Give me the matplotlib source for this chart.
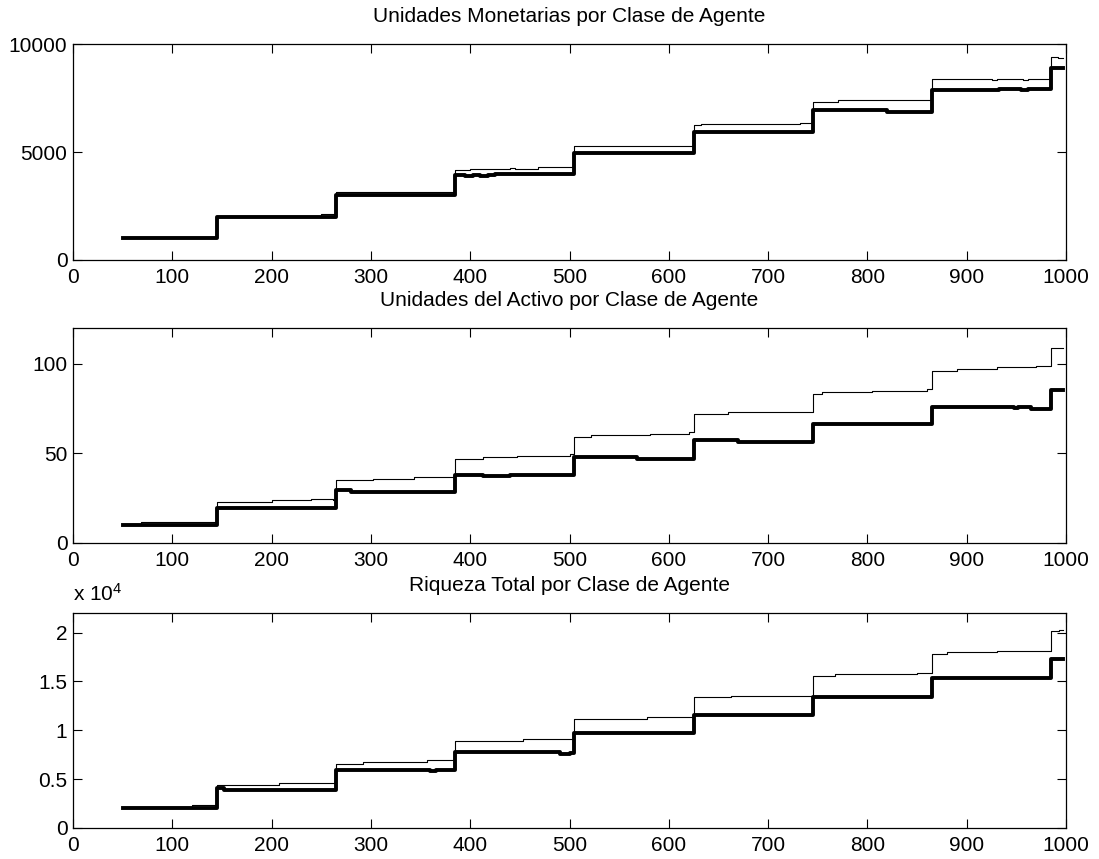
import matplotlib
matplotlib.use("Agg")
import matplotlib.pyplot as plt
from matplotlib.ticker import FuncFormatter

plt.rcParams['font.family'] = ['Liberation Sans', 'DejaVu Sans']
plt.rcParams['mathtext.default'] = 'regular'

# Unidades monetarias (thin = upper class line, thick = lower)
money_thin_x = [50, 120, 145, 250, 265, 385, 400, 440, 445, 468, 505, 545, 610, 625, 632, 732, 745, 770, 865, 925, 930, 957, 962, 985, 992, 997]
money_thin_y = [1000, 1030, 2020, 2100, 3120, 4170, 4200, 4250, 4200, 4320, 5270, 5300, 5270, 6250, 6300, 6360, 7340, 7410, 8390, 8340, 8390, 8340, 8390, 9400, 9350, 9350]
money_thick_x = [50, 145, 265, 385, 395, 403, 410, 418, 425, 505, 625, 745, 820, 865, 925, 932, 955, 962, 985, 997]
money_thick_y = [1000, 2000, 3000, 3950, 3900, 3950, 3900, 3950, 3960, 4940, 5950, 6950, 6870, 7900, 7860, 7920, 7860, 7920, 8900, 8900]

# Unidades del activo
asset_thin_x = [50, 68, 145, 200, 240, 262, 265, 302, 343, 385, 413, 447, 500, 505, 522, 581, 620, 625, 660, 745, 754, 805, 860, 865, 890, 930, 970, 985, 997]
asset_thin_y = [10.8, 11.8, 23, 23.8, 24.7, 24, 35, 35.9, 36.8, 47, 47.9, 48.3, 49.4, 59, 60, 61, 61.8, 72, 73, 83.1, 84, 84.9, 85.8, 96.1, 97, 98, 98.9, 109, 109]
asset_thick_x = [50, 145, 265, 280, 385, 413, 440, 505, 568, 625, 670, 745, 865, 948, 952, 965, 985, 997]
asset_thick_y = [10, 19.3, 29.5, 28.5, 38.2, 37.5, 38.2, 47.9, 47, 57.2, 56.3, 66.5, 75.7, 75.2, 75.7, 75, 85.4, 85.4]

# Riqueza total
wealth_thin_x = [50, 120, 145, 207, 265, 292, 356, 385, 453, 505, 578, 625, 663, 745, 767, 850, 865, 880, 930, 985, 993, 997]
wealth_thin_y = [2000, 2320, 4430, 4590, 6570, 6740, 6980, 8950, 9120, 11160, 11330, 13370, 13540, 15580, 15750, 15900, 17800, 17970, 18140, 20170, 20300, 20300]
wealth_thick_x = [50, 145, 152, 265, 360, 366, 385, 490, 500, 505, 625, 745, 865, 985, 997]
wealth_thick_y = [2000, 4050, 3850, 5900, 5800, 5900, 7760, 7600, 7700, 9690, 11570, 13440, 15310, 17280, 17280]

titles = ["Unidades Monetarias por Clase de Agente",
          "Unidades del Activo por Clase de Agente",
          "Riqueza Total por Clase de Agente"]

fig = plt.figure(figsize=(10.99, 8.59), dpi=100)
boxes = [[0.0664, 0.6977, 0.9036, 0.2507],
         [0.0664, 0.3679, 0.9036, 0.2503],
         [0.0664, 0.0361, 0.9036, 0.2503]]
series = [(money_thin_x, money_thin_y, money_thick_x, money_thick_y),
          (asset_thin_x, asset_thin_y, asset_thick_x, asset_thick_y),
          (wealth_thin_x, wealth_thin_y, wealth_thick_x, wealth_thick_y)]
ylims = [(0, 10000), (0, 120), (0, 22000)]
yticks = [[0, 5000, 10000], [0, 50, 100], [0, 5000, 10000, 15000, 20000]]

for i in range(3):
    ax = fig.add_axes(boxes[i])
    tx, ty, kx, ky = series[i]
    ax.plot(tx, ty, drawstyle='steps-post', color='black', lw=0.8)
    ax.plot(kx, ky, drawstyle='steps-post', color='black', lw=2.8)
    ax.set_xlim(0, 1000)
    ax.set_ylim(*ylims[i])
    ax.set_xticks(range(0, 1001, 100))
    ax.set_yticks(yticks[i])
    ax.tick_params(direction='in', top=True, right=True, length=6.5, width=0.8,
                   labelsize=15, colors='black')
    ax.tick_params(axis='x', pad=6)
    ax.tick_params(axis='y', pad=4)
    for s in ax.spines.values():
        s.set_linewidth(0.9)
    ax.set_title(titles[i], fontsize=15, pad=16)
    if i == 2:
        ax.yaxis.set_major_formatter(FuncFormatter(lambda v, p: "%g" % (v / 1e4)))
        ax.annotate("x 10$^4$", xy=(0, 1), xycoords='axes fraction',
                    xytext=(0, 9), textcoords='offset points',
                    ha='left', va='baseline', fontsize=15)

fig.savefig("out.png", dpi=100)
